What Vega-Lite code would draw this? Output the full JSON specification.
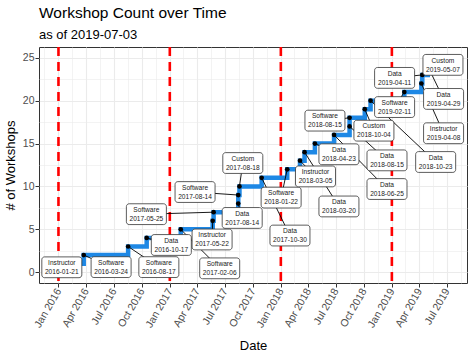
{
  "$schema": "https://vega.github.io/schema/vega-lite/v6.json",
  "width": 428,
  "height": 236,
  "autosize": {"type": "none"},
  "padding": {"left": 39, "top": 47, "right": 7, "bottom": 72},
  "title": {
    "text": "Workshop Count over Time",
    "subtitle": "as of 2019-07-03",
    "anchor": "start",
    "frame": "group",
    "font": "Liberation Sans",
    "fontSize": 15.5,
    "fontWeight": "normal",
    "color": "#000000",
    "subtitleFont": "Liberation Sans",
    "subtitleFontSize": 13,
    "subtitleColor": "#000000",
    "subtitlePadding": 7,
    "offset": 4
  },
  "config": {
    "font": "Liberation Sans",
    "view": {"stroke": "#333333", "strokeWidth": 1}
  },
  "datasets": {
    "workshops": [
      {"date": "2016-01-21", "n": 1, "type": "Instructor", "lab_date": "2016-01-12", "lab_n": 0.58},
      {"date": "2016-03-24", "n": 2, "type": "Software", "lab_date": "2016-06-22", "lab_n": 0.6},
      {"date": "2016-08-17", "n": 3, "type": "Software", "lab_date": "2016-11-26", "lab_n": 0.6},
      {"date": "2016-10-17", "n": 4, "type": "Data", "lab_date": "2017-01-06", "lab_n": 3.18},
      {"date": "2017-02-06", "n": 5, "type": "Software", "lab_date": "2017-06-14", "lab_n": 0.46},
      {"date": "2017-05-22", "n": 6, "type": "Instructor", "lab_date": "2017-05-20", "lab_n": 3.82},
      {"date": "2017-05-25", "n": 7, "type": "Software", "lab_date": "2016-10-16", "lab_n": 6.77},
      {"date": "2017-08-14", "n": 8, "type": "Data", "lab_date": "2017-08-27", "lab_n": 6.33},
      {"date": "2017-08-14", "n": 9, "type": "Software", "lab_date": "2017-03-25", "lab_n": 9.35},
      {"date": "2017-08-18", "n": 10, "type": "Custom", "lab_date": "2017-08-29", "lab_n": 12.73},
      {"date": "2017-10-30", "n": 11, "type": "Data", "lab_date": "2018-01-31", "lab_n": 4.28},
      {"date": "2018-01-22", "n": 12, "type": "Software", "lab_date": "2018-01-02", "lab_n": 8.7},
      {"date": "2018-03-05", "n": 13, "type": "Instructor", "lab_date": "2018-04-25", "lab_n": 11.17},
      {"date": "2018-03-20", "n": 14, "type": "Data", "lab_date": "2018-07-11", "lab_n": 7.67},
      {"date": "2018-04-23", "n": 15, "type": "Data", "lab_date": "2018-07-11", "lab_n": 13.75},
      {"date": "2018-06-25", "n": 16, "type": "Data", "lab_date": "2018-12-16", "lab_n": 9.7},
      {"date": "2018-08-15", "n": 17, "type": "Data", "lab_date": "2018-12-16", "lab_n": 13.04},
      {"date": "2018-08-15", "n": 18, "type": "Software", "lab_date": "2018-05-26", "lab_n": 17.67},
      {"date": "2018-10-04", "n": 19, "type": "Custom", "lab_date": "2018-11-03", "lab_n": 16.5},
      {"date": "2018-10-23", "n": 20, "type": "Data", "lab_date": "2019-05-25", "lab_n": 12.85},
      {"date": "2019-02-11", "n": 21, "type": "Software", "lab_date": "2019-01-10", "lab_n": 19.25},
      {"date": "2019-04-08", "n": 22, "type": "Instructor", "lab_date": "2019-06-20", "lab_n": 16.2},
      {"date": "2019-04-11", "n": 23, "type": "Data", "lab_date": "2019-01-10", "lab_n": 22.65},
      {"date": "2019-04-29", "n": 24, "type": "Data", "lab_date": "2019-06-20", "lab_n": 20.2},
      {"date": "2019-05-07", "n": 25, "type": "Custom", "lab_date": "2019-06-18", "lab_n": 24.17}
    ],
    "steps": [
      {"date": "2016-01-21", "n": 0},
      {"date": "2016-01-21", "n": 1},
      {"date": "2016-03-24", "n": 2},
      {"date": "2016-08-17", "n": 3},
      {"date": "2016-10-17", "n": 4},
      {"date": "2017-02-06", "n": 5},
      {"date": "2017-05-22", "n": 6},
      {"date": "2017-05-25", "n": 7},
      {"date": "2017-08-14", "n": 8},
      {"date": "2017-08-14", "n": 9},
      {"date": "2017-08-18", "n": 10},
      {"date": "2017-10-30", "n": 11},
      {"date": "2018-01-22", "n": 12},
      {"date": "2018-03-05", "n": 13},
      {"date": "2018-03-20", "n": 14},
      {"date": "2018-04-23", "n": 15},
      {"date": "2018-06-25", "n": 16},
      {"date": "2018-08-15", "n": 17},
      {"date": "2018-08-15", "n": 18},
      {"date": "2018-10-04", "n": 19},
      {"date": "2018-10-23", "n": 20},
      {"date": "2019-02-11", "n": 21},
      {"date": "2019-04-08", "n": 22},
      {"date": "2019-04-11", "n": 23},
      {"date": "2019-04-29", "n": 24},
      {"date": "2019-05-07", "n": 25},
      {"date": "2019-07-03", "n": 25.001}
    ],
    "years": [
      {"start": "2016-01-01"},
      {"start": "2017-01-01"},
      {"start": "2018-01-01"},
      {"start": "2019-01-01"}
    ]
  },
  "layer": [
    {
      "data": {"name": "workshops"},
      "mark": {"type": "point", "opacity": 0},
      "encoding": {
        "x": {
          "field": "date", "type": "temporal",
          "scale": {"type": "utc", "domain": [{"year": 2015, "month": 10, "date": 29, "utc": true}, {"year": 2019, "month": 9, "date": 5, "utc": true}]},
          "axis": {
            "orient": "top", "grid": true, "gridColor": "#EBEBEB", "gridWidth": 0.6,
            "labels": false, "ticks": false, "domain": false, "title": null,
            "values": [
              {"year": 2015, "month": 11, "date": 16, "utc": true},
              {"year": 2016, "month": 2, "date": 15, "utc": true},
              {"year": 2016, "month": 5, "date": 16, "utc": true},
              {"year": 2016, "month": 8, "date": 16, "utc": true},
              {"year": 2016, "month": 11, "date": 15, "utc": true},
              {"year": 2017, "month": 2, "date": 14, "utc": true},
              {"year": 2017, "month": 5, "date": 16, "utc": true},
              {"year": 2017, "month": 8, "date": 16, "utc": true},
              {"year": 2017, "month": 11, "date": 15, "utc": true},
              {"year": 2018, "month": 2, "date": 14, "utc": true},
              {"year": 2018, "month": 5, "date": 16, "utc": true},
              {"year": 2018, "month": 8, "date": 16, "utc": true},
              {"year": 2018, "month": 11, "date": 15, "utc": true},
              {"year": 2019, "month": 2, "date": 14, "utc": true},
              {"year": 2019, "month": 5, "date": 16, "utc": true},
              {"year": 2019, "month": 8, "date": 16, "utc": true}
            ]
          }
        },
        "y": {
          "field": "n", "type": "quantitative",
          "scale": {"domain": [-1.25, 26.25], "nice": false, "zero": false},
          "axis": {
            "orient": "right", "grid": true, "gridColor": "#EBEBEB", "gridWidth": 0.6,
            "labels": false, "ticks": false, "domain": false, "title": null,
            "values": [2.5, 7.5, 12.5, 17.5, 22.5]
          }
        }
      }
    },
    {
      "data": {"name": "workshops"},
      "mark": {"type": "point", "opacity": 0},
      "encoding": {
        "x": {
          "field": "date", "type": "temporal",
          "axis": {
            "orient": "bottom", "grid": true, "gridColor": "#EBEBEB", "gridWidth": 1.1,
            "domain": false, "ticks": true, "tickColor": "#333333", "tickSize": 4, "tickWidth": 1,
            "labelColor": "#4D4D4D", "labelFontSize": 10.5, "labelAngle": -60, "labelAlign": "right", "labelBaseline": "middle",
            "labelPadding": 2, "labelOverlap": false, "labelFlush": false, "format": "%b %Y",
            "title": "Date", "titleFontSize": 13, "titleFontWeight": "normal", "titleColor": "#000000", "titlePadding": 10,
            "values": [
              {"year": 2016, "month": 1, "date": 1, "utc": true},
              {"year": 2016, "month": 4, "date": 1, "utc": true},
              {"year": 2016, "month": 7, "date": 1, "utc": true},
              {"year": 2016, "month": 10, "date": 1, "utc": true},
              {"year": 2017, "month": 1, "date": 1, "utc": true},
              {"year": 2017, "month": 4, "date": 1, "utc": true},
              {"year": 2017, "month": 7, "date": 1, "utc": true},
              {"year": 2017, "month": 10, "date": 1, "utc": true},
              {"year": 2018, "month": 1, "date": 1, "utc": true},
              {"year": 2018, "month": 4, "date": 1, "utc": true},
              {"year": 2018, "month": 7, "date": 1, "utc": true},
              {"year": 2018, "month": 10, "date": 1, "utc": true},
              {"year": 2019, "month": 1, "date": 1, "utc": true},
              {"year": 2019, "month": 4, "date": 1, "utc": true},
              {"year": 2019, "month": 7, "date": 1, "utc": true}
            ]
          }
        },
        "y": {
          "field": "n", "type": "quantitative",
          "axis": {
            "orient": "left", "grid": true, "gridColor": "#EBEBEB", "gridWidth": 1.1,
            "domain": false, "ticks": true, "tickColor": "#333333", "tickSize": 4, "tickWidth": 1,
            "labelColor": "#4D4D4D", "labelFontSize": 10.5, "labelPadding": 1,
            "values": [0, 5, 10, 15, 20, 25],
            "title": "# of Workshops", "titleFontSize": 13, "titleFontWeight": "normal", "titleColor": "#000000", "titlePadding": 5
          }
        }
      }
    },
    {
      "data": {"name": "years"},
      "mark": {"type": "rule", "color": "#FF0000", "strokeWidth": 2.6, "strokeDash": [9, 6]},
      "encoding": {
        "x": {"field": "start", "type": "temporal", "axis": null}
      }
    },
    {
      "data": {"name": "steps"},
      "mark": {"type": "line", "interpolate": "step-after", "color": "#1E88E5", "strokeWidth": 4.5},
      "encoding": {
        "x": {"field": "date", "type": "temporal", "axis": null},
        "y": {"field": "n", "type": "quantitative", "axis": null},
        "order": {"field": "n", "type": "quantitative"}
      }
    },
    {
      "data": {"name": "workshops"},
      "mark": {"type": "rule", "color": "#000000", "strokeWidth": 0.9},
      "encoding": {
        "x": {"field": "date", "type": "temporal", "axis": null},
        "x2": {"field": "lab_date"},
        "y": {"field": "n", "type": "quantitative", "axis": null},
        "y2": {"field": "lab_n"}
      }
    },
    {
      "data": {"name": "workshops"},
      "mark": {"type": "point", "filled": true, "color": "#000000", "size": 22, "opacity": 1},
      "encoding": {
        "x": {"field": "date", "type": "temporal", "axis": null},
        "y": {"field": "n", "type": "quantitative", "axis": null}
      }
    },
    {
      "data": {"name": "workshops"},
      "mark": {
        "type": "point",
        "shape": "M-0.86,-0.52H0.86A0.14,0.14 0 0 1 1,-0.38V0.38A0.14,0.14 0 0 1 0.86,0.52H-0.86A0.14,0.14 0 0 1 -1,0.38V-0.38A0.14,0.14 0 0 1 -0.86,-0.52Z",
        "size": 1600, "filled": true, "fill": "#FFFFFF", "stroke": "#333333", "strokeWidth": 0.8, "opacity": 1
      },
      "encoding": {
        "x": {"field": "lab_date", "type": "temporal", "axis": null},
        "y": {"field": "lab_n", "type": "quantitative", "axis": null}
      }
    },
    {
      "data": {"name": "workshops"},
      "mark": {"type": "text", "fontSize": 6.6, "color": "#1A1A1A", "dy": -4.2, "baseline": "middle", "align": "center"},
      "encoding": {
        "x": {"field": "lab_date", "type": "temporal", "axis": null},
        "y": {"field": "lab_n", "type": "quantitative", "axis": null},
        "text": {"field": "type", "type": "nominal"}
      }
    },
    {
      "data": {"name": "workshops"},
      "mark": {"type": "text", "fontSize": 6.6, "color": "#1A1A1A", "dy": 4.8, "baseline": "middle", "align": "center"},
      "encoding": {
        "x": {"field": "lab_date", "type": "temporal", "axis": null},
        "y": {"field": "lab_n", "type": "quantitative", "axis": null},
        "text": {"field": "date", "type": "temporal", "timeUnit": "utcyearmonthdate", "format": "%Y-%m-%d"}
      }
    }
  ],
  "resolve": {"axis": {"x": "independent", "y": "independent"}}
}
